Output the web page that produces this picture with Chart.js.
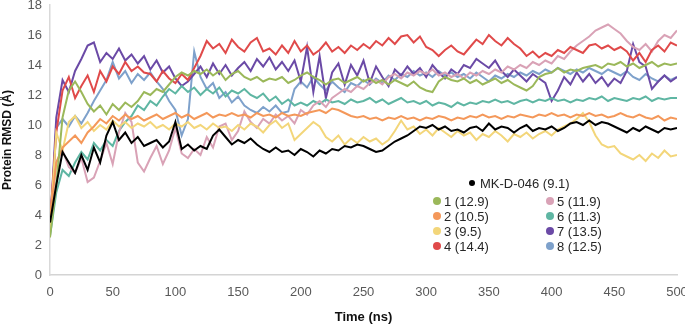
<!DOCTYPE html>
<html>
<head>
<meta charset="utf-8">
<script src="https://cdn.jsdelivr.net/npm/chart.js@4"></script>
<style>
  body { margin: 0; background: #fff; }
  #wrap { position: relative; width: 685px; height: 325px; }
  .leg { position: absolute; display: flex; align-items: center; height: 16px;
         font: 13px "Liberation Sans", Arial, sans-serif; color: #262626; white-space: nowrap; }
  .leg i { display: inline-block; border-radius: 50%; }
</style>
</head>
<body>
<div id="wrap">
  <canvas id="rmsdChart"></canvas>
</div>
<script>
// sampling grid, ns
const times = Array.from({ length: 101 }, (_, i) => i * 5);

const seriesNames = ["MK-D-046 (9.1)", "1 (12.9)", "2 (10.5)", "3 (9.5)", "4 (14.4)",
                     "5 (11.9)", "6 (11.3)", "7 (13.5)", "8 (12.5)"];

const mkd046 = [
  3.5, 6.0, 8.2, 7.5, 6.8, 8.0, 7.0, 8.5, 7.5, 9.3,
  10.2, 9.0, 9.5, 8.8, 9.2, 8.6, 8.8, 9.0, 8.5, 8.9,
  10.2, 8.4, 8.7, 8.3, 8.6, 8.4, 9.3, 9.7, 9.2, 8.7,
  9.0, 8.8, 9.1, 8.7, 8.4, 8.2, 8.5, 8.2, 8.3, 8.0,
  8.4, 8.2, 7.9, 8.3, 8.1, 8.4, 8.3, 8.6, 8.5, 8.7,
  8.6, 8.4, 8.2, 8.3, 8.6, 8.9, 9.1, 9.3, 9.6, 9.9,
  9.8, 10.0, 9.7, 9.9, 9.6, 9.7, 9.5, 9.8, 9.9, 9.6,
  10.1, 9.7, 9.9, 9.8, 9.5, 9.8, 10.0, 9.6, 9.8, 9.7,
  9.9, 9.6, 9.8, 10.1, 10.2, 10.0, 10.3, 10.0, 10.2, 10.1,
  9.9, 9.7, 9.5, 9.8, 9.6, 9.9, 9.7, 9.5, 9.8, 9.7,
  9.8
];
const run1 = [
  2.5, 6.0, 10.5, 12.3, 12.9, 12.2, 11.4, 10.9, 11.3, 10.7,
  11.4, 11.0, 11.5, 11.2, 11.6, 12.2, 12.0, 12.4, 12.2, 12.7,
  13.2, 13.5, 13.3, 13.6, 13.4, 13.7, 13.3, 13.6, 13.0, 13.4,
  13.6, 13.2, 13.0, 13.2, 12.9, 13.1, 13.0, 13.2, 12.8, 13.0,
  13.3, 13.5, 13.2, 13.0, 12.7, 13.0, 13.1, 12.8, 13.0, 13.2,
  12.9, 13.1, 12.8, 13.0, 12.7, 13.0, 12.8, 12.6, 12.9, 12.5,
  12.3, 12.2, 12.9, 13.2, 13.0, 12.9, 13.1, 12.8, 13.0, 12.7,
  12.9, 13.1, 12.8, 13.0, 12.7, 12.5, 12.3, 12.6, 13.2, 13.4,
  13.5, 13.8, 13.5, 13.7, 13.6, 13.8, 13.9, 14.0, 13.8, 14.1,
  14.0, 14.2, 13.9, 14.1, 13.8, 14.0, 14.2, 13.9, 14.1, 14.0,
  14.1
];
const run2 = [
  3.8, 7.5, 8.5, 8.9, 9.3, 8.8, 9.5, 9.9, 10.4, 10.1,
  10.6, 10.3, 10.7, 10.4, 10.6, 10.3, 10.5, 10.7, 10.4, 10.6,
  10.8, 10.5, 10.7, 10.4, 10.6, 10.8, 10.5, 10.7, 10.6, 10.8,
  10.6, 10.7, 10.5, 10.8, 10.6, 10.7, 10.5, 10.8, 10.6, 10.7,
  10.6, 10.8, 10.9, 11.0, 10.8, 11.1, 11.0, 10.8, 10.6, 10.5,
  10.6, 10.4, 10.5, 10.3, 10.5, 10.4, 10.6, 10.4, 10.5, 10.3,
  10.5, 10.4, 10.6, 10.5, 10.3, 10.5, 10.4, 10.6, 10.5, 10.7,
  10.5, 10.6, 10.4, 10.6, 10.5, 10.7, 10.6, 10.5, 10.7, 10.6,
  10.8, 10.6, 10.7, 10.5, 10.7, 10.6, 10.8, 10.6, 10.7, 10.5,
  10.6, 10.8, 10.6, 10.5, 10.7, 10.5, 10.4, 10.6, 10.3, 10.5,
  10.4
];
const run3 = [
  3.0, 9.5, 8.3, 10.2, 10.6, 9.8, 10.2, 9.6, 10.0, 9.7,
  10.3, 9.9, 10.2, 9.8, 10.1, 9.9, 10.2, 9.8, 10.0, 9.7,
  10.1, 9.9, 10.2, 9.8, 10.0, 9.7, 10.1, 9.8, 9.9, 9.6,
  10.0, 9.7, 10.1, 9.9, 9.5, 10.0, 10.3, 9.8, 10.1, 9.0,
  9.4, 9.8, 10.2, 9.9, 9.2, 8.9, 9.3, 8.7, 9.1, 8.8,
  9.2, 8.9, 9.1, 8.7, 9.0, 9.6, 10.3, 9.7, 9.9, 9.4,
  9.7, 9.3, 9.8, 9.5, 9.2, 9.6, 9.3, 9.5, 9.0, 9.4,
  9.2, 9.6, 9.3, 8.9, 9.4, 9.2, 9.5, 9.1, 9.4, 9.6,
  9.3, 9.7, 9.9, 10.1, 10.4, 10.8, 10.2, 9.3, 8.7, 8.5,
  8.6, 8.1, 7.9, 7.7, 8.0, 7.6, 8.1, 7.8, 8.3, 7.9,
  8.0
];
const run4 = [
  3.5, 9.5, 12.3, 13.2, 11.8, 12.6, 13.3, 12.2, 13.6, 12.9,
  13.9, 13.4, 14.2, 13.6, 13.9, 13.5, 13.4, 12.9, 13.6, 13.1,
  12.8, 13.4, 13.0, 13.8, 14.6, 15.6, 15.1, 15.4, 14.8, 15.7,
  15.2, 14.9, 15.5, 15.8, 14.9, 15.1, 14.7, 15.3, 14.8, 15.6,
  14.9, 15.3, 14.7, 15.0, 15.5, 14.9, 15.2, 14.8, 15.3, 15.0,
  15.4, 15.1, 15.6, 15.3, 15.8, 15.4, 15.9, 16.0, 15.5, 15.9,
  15.2, 15.0, 14.6, 15.0, 15.3, 14.9, 14.7, 15.2, 15.7, 15.4,
  16.0, 15.6, 15.3, 15.8, 15.4, 15.1, 14.6, 14.9, 14.5, 14.8,
  14.6, 15.0, 14.8, 15.2, 15.0, 14.8, 15.3, 15.4, 15.1, 15.3,
  15.0, 15.2, 14.9, 14.3, 14.8, 14.2, 15.0, 15.3, 14.9, 15.5,
  15.3
];
const run5 = [
  3.5, 7.5, 8.3, 7.2, 6.8, 7.8, 6.2, 6.5, 7.6, 8.8,
  7.4, 9.5, 10.8, 10.2, 7.5, 6.9, 7.8, 8.6, 7.4, 8.3,
  9.8, 8.1, 7.8, 8.4, 8.0, 9.2, 8.5, 9.9, 10.1, 9.0,
  9.6, 10.9, 10.2, 9.8, 10.4, 10.1, 10.7, 10.3, 10.6, 10.1,
  11.0, 10.7, 11.3, 11.6, 11.2, 11.8, 12.1, 12.4, 12.2, 12.6,
  12.4, 12.8, 13.0, 12.7, 13.2, 13.4, 13.1, 13.5, 13.3, 13.6,
  13.4, 13.7, 13.3, 13.5, 13.2, 13.4, 13.1, 13.5, 13.3, 13.6,
  13.4, 13.7, 13.5, 13.9, 13.7, 14.0, 13.8, 14.2, 14.0, 14.3,
  14.1, 14.6, 14.4, 14.9, 15.3, 15.6, 15.9, 16.3, 16.5, 16.7,
  16.4, 16.1, 15.6, 15.2, 15.0, 15.4, 14.9, 15.6, 16.0, 15.8,
  16.3
];
const run6 = [
  2.6, 5.5, 7.0, 6.6, 7.5, 8.2, 7.7, 8.8, 8.3, 9.0,
  8.6, 9.6, 10.2, 10.6, 11.3, 11.0, 11.6, 11.3, 11.9, 12.4,
  12.1, 12.6, 12.2, 12.5, 12.0, 12.4, 12.1, 12.5, 11.9, 12.3,
  12.1, 12.4, 12.0, 11.8, 12.1, 11.6, 11.9, 11.4, 11.7, 11.3,
  11.5, 11.3, 11.6, 11.4, 11.7, 11.5, 11.6, 11.4, 11.7, 11.5,
  11.6, 11.8, 11.5, 11.7, 11.4, 11.6, 11.8, 11.5, 11.6, 11.4,
  11.6, 11.3, 11.5, 11.4, 11.2, 11.5, 11.3, 11.5, 11.4, 11.6,
  11.5, 11.7, 11.5, 11.6, 11.4, 11.6, 11.7, 11.5, 11.7, 11.6,
  11.8, 11.6, 11.7, 11.5, 11.7, 11.6, 11.8, 11.7, 11.9, 11.6,
  11.8, 11.7, 11.6, 11.8, 11.7, 11.9, 11.6, 11.8, 11.7, 11.8,
  11.8
];
const run7 = [
  3.0, 10.5, 13.0, 12.2, 13.6, 14.4, 15.3, 15.5, 14.2, 14.8,
  14.4, 15.1, 14.3, 14.7, 14.1, 14.6, 13.7, 14.3, 13.5, 13.9,
  13.1, 12.6, 12.9, 13.4, 13.9, 13.2, 14.1, 13.4, 14.0, 13.3,
  13.8, 14.2, 13.6, 14.4, 13.9, 14.5, 13.7, 14.2, 13.6, 14.3,
  12.9, 15.2, 12.2, 14.6, 11.8, 13.5, 14.1, 12.7, 14.0, 13.3,
  14.3, 12.8, 13.9, 13.2, 12.6, 13.7, 13.3, 13.9, 13.4, 13.8,
  13.2, 14.0, 13.5, 13.1, 13.7, 13.4, 14.0, 13.8, 14.4, 14.1,
  13.8, 14.3, 13.6, 13.2, 13.7, 13.3, 12.9, 13.4, 13.1, 12.8,
  11.6, 12.3, 13.2, 12.7, 13.5, 12.9, 13.4, 12.8, 13.2, 12.6,
  13.1, 12.8, 13.6, 15.4, 14.2, 13.9, 12.4, 12.9, 13.3, 12.9,
  13.2
];
const run8 = [
  2.8, 9.8, 10.4, 9.9, 10.6, 10.1, 10.8, 11.6, 12.3, 13.0,
  14.2, 13.1, 13.6, 12.8, 13.4, 13.0, 13.5, 12.9, 12.4, 11.6,
  11.0, 9.3, 10.4, 14.9, 13.2, 12.4, 12.8, 11.8, 12.2, 11.5,
  11.9, 11.3, 11.0, 10.8, 11.2, 10.9, 11.3, 10.8, 10.9, 12.4,
  12.9, 12.5, 13.2, 12.7, 12.3, 12.9, 12.5, 12.2, 12.8, 12.6,
  13.0, 12.7, 13.1, 12.8, 13.3, 13.0, 13.4, 13.2, 13.6, 13.3,
  13.5, 13.2, 13.6, 13.3, 13.5, 13.2, 13.4, 13.1, 13.5, 13.2,
  12.9, 13.3, 13.1, 13.4, 13.2, 13.5, 13.3, 13.6, 13.4, 13.7,
  13.5, 13.8, 13.6, 13.4, 13.7, 13.5, 13.8, 13.6, 13.4, 13.7,
  13.5, 13.3, 13.6, 13.2, 13.0, 13.4, 13.1, 12.9, 13.3, 13.0,
  13.2
];

const seriesValues = [mkd046, run1, run2, run3, run4, run5, run6, run7, run8];
const seriesColors = ["#000000", "#9bb85a", "#f4985a", "#f3d67a", "#e04a4a",
                      "#d9a2b6", "#5fb6a3", "#6b4aa6", "#7ea1cb"];

const yTicks = [0, 2, 4, 6, 8, 10, 12, 14, 16, 18];
const xTicks = [0, 50, 100, 150, 200, 250, 300, 350, 400, 450, 500];

/* ---------- Chart ---------- */
const ctx = document.getElementById("rmsdChart").getContext("2d");

const datasets = seriesValues.map((vals, s) => ({
  label: seriesNames[s],
  data: vals.map((v, i) => ({ x: times[i], y: v })),
  borderColor: seriesColors[s],
  borderWidth: 2,
  pointRadius: 0,
  tension: 0,
  fill: false,
}));

new Chart(ctx, {
  type: "line",
  data: { datasets },
  options: {
    responsive: true,
    maintainAspectRatio: false,
    animation: false,
    layout: { padding: { left: 0, right: 8, top: 5, bottom: 0 }, autoPadding: false },
    plugins: { legend: { display: false }, tooltip: { enabled: false } },
    scales: {
      x: {
        type: "linear",
        min: 0, max: 500,
        afterFit: s => { s.height = 50; s.paddingLeft = 0; s.paddingRight = 0; },
        afterBuildTicks: s => { s.ticks = xTicks.map(v => ({ value: v })); },
        grid: { display: false, drawTicks: false },
        border: { color: "#d4d4d4", width: 1.5 },
        ticks: { color: "#595959", padding: 10, maxRotation: 0,
                 font: { family: "Liberation Sans", size: 13 } },
        title: { display: true, text: "Time (ns)", color: "#111",
                 padding: { top: 0, bottom: 0 },
                 font: { family: "Liberation Sans", size: 13, weight: "bold" } },
      },
      y: {
        min: 0, max: 18,
        afterFit: s => { s.width = 50; s.paddingTop = 0; s.paddingBottom = 0; },
        afterBuildTicks: s => { s.ticks = yTicks.map(v => ({ value: v })); },
        grid: { display: false, drawTicks: false },
        border: { color: "#d9d9d9", width: 1.5 },
        ticks: { color: "#595959", padding: 8,
                 font: { family: "Liberation Sans", size: 13 } },
        title: { display: true, text: "Protein RMSD (Å)", color: "#111",
                 padding: { top: 0, bottom: 0 },
                 font: { family: "Liberation Sans", size: 12, weight: "bold" } },
      },
    },
  },
});

/* ---------- Legend (black on top, two columns below) ---------- */
const wrap = document.getElementById("wrap");
const legendSpots = [
  [472, 183],
  [437, 201], [437, 216], [437, 231], [437, 246],
  [550, 201], [550, 216], [550, 231], [550, 246],
];
seriesNames.forEach((name, s) => {
  const item = document.createElement("div");
  item.className = "leg";
  const size = s === 0 ? 6 : 8;
  item.style.left = (legendSpots[s][0] - size / 2) + "px";
  item.style.top = (legendSpots[s][1] - 8) + "px";
  item.innerHTML = `<i style="background:${seriesColors[s]};width:${size}px;height:${size}px;margin-right:${s === 0 ? 5 : 3}px"></i>${name}`;
  wrap.appendChild(item);
});
</script>
</body>
</html>
